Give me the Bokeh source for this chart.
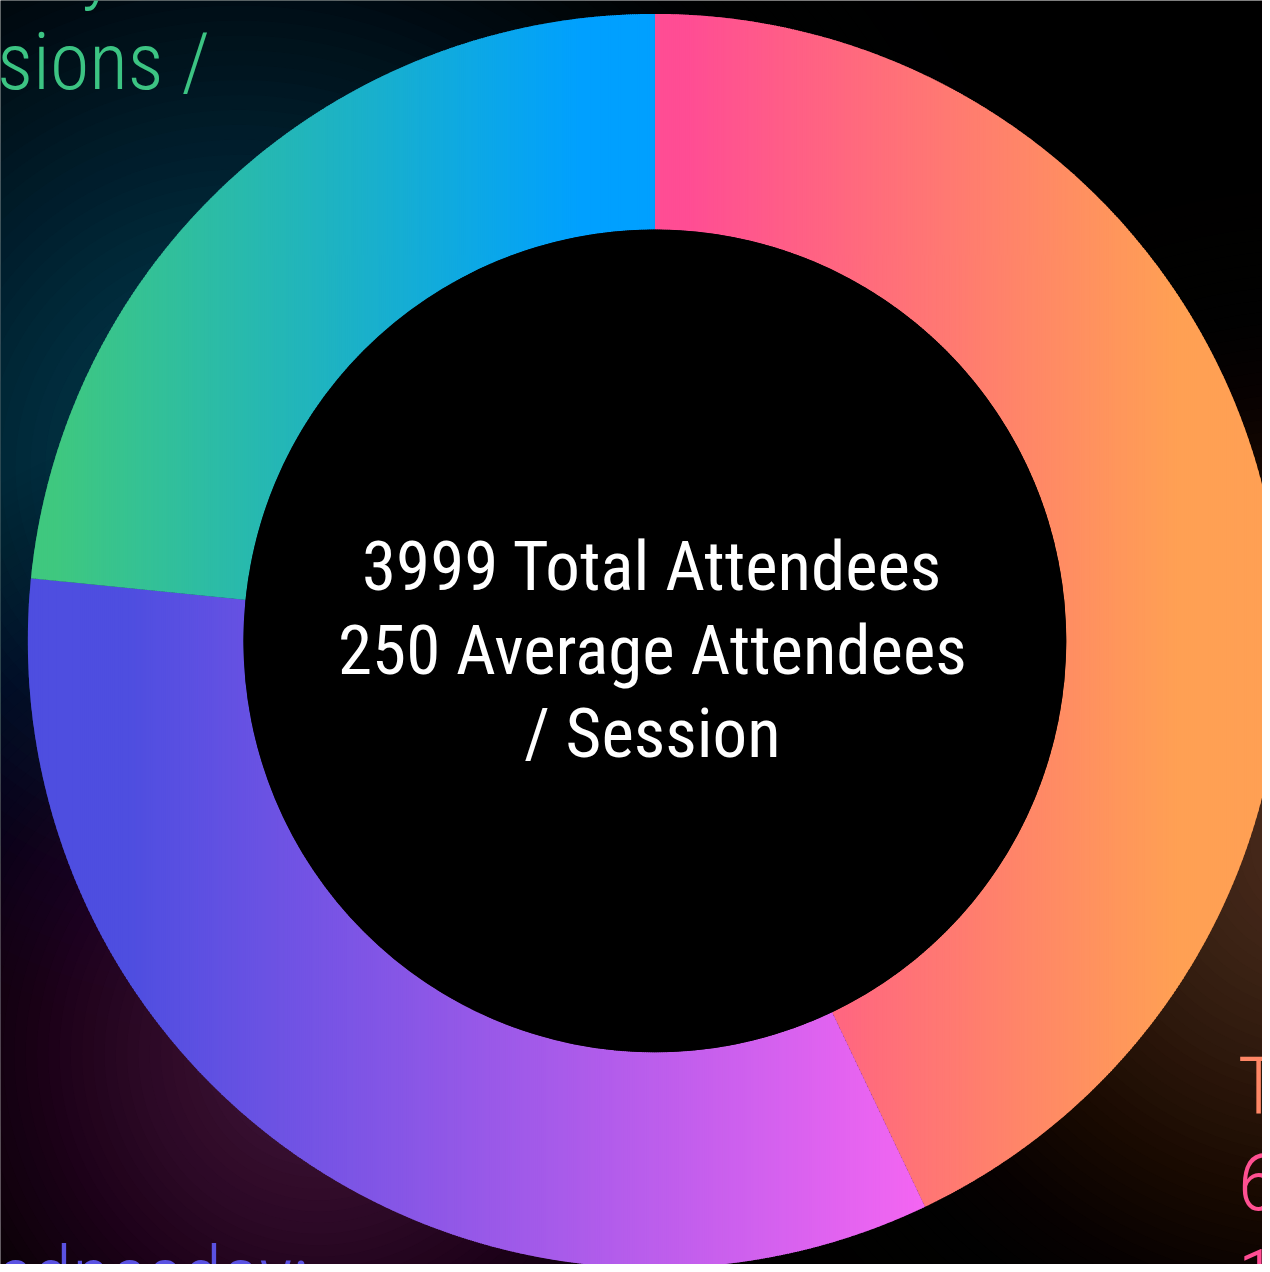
import numpy as np
from bokeh.plotting import figure
from bokeh.models import Range1d, ColumnDataSource
from bokeh.core.properties import value
from bokeh.embed import file_html
from bokeh.resources import INLINE

# ---------------- data ----------------
days = ["Tuesday", "Wednesday", "Thursday"]
attendees = [1716, 1347, 936]
sessions = [6, 6, 4]
total_attendees = sum(attendees)
avg_attendees = round(total_attendees / sum(sessions))
center_lines = [f"{total_attendees} Total Attendees",
                f"{avg_attendees} Average Attendees",
                "/ Session"]
label_lines = [
    [f"{days[0]}:", f"{sessions[0]} Sessions /", f"{attendees[0]} Attendees"],
    [f"{days[1]}:"],
    [f"{days[2]}:", f"{sessions[2]} Sessions /"],
]

# ---------------- style / geometry ----------------
W, H = 1270, 1272          # reference coordinate space
PW, PH = 1262, 1264        # figure size (fits inside the 8px page margin)
CX, CY = 658.5, 644.5
R_OUT, R_IN = 631.0, 414.0
grad_stops = [  # (x_start, color_start, x_end, color_end) for each slice
    (692, (255, 77, 148), 1184, (255, 160, 84)),
    (130, (78, 78, 224), 935, (245, 102, 242)),
    (55, (63, 200, 127), 586, (0, 160, 255)),
]
label_colors = [["#FF8766", "#FF5092", "#FF4D94"], ["#5A52E2"], ["#3BC486", "#3CC483"]]
label_pos = [(1245, 1093, 97), (-65, 1284, 97), (-175, -34, 96)]

p = figure(width=PW, height=PH, x_range=Range1d(0, W), y_range=Range1d(H, 0),
           output_backend="svg", toolbar_location=None, min_border=0,
           x_axis_location=None, y_axis_location=None,
           background_fill_color="black", border_fill_color="black",
           outline_line_color=None)
p.grid.visible = False


def hexc(rgb):
    return "#%02x%02x%02x" % tuple(int(round(max(0, min(255, c)))) for c in rgb)


# ---------------- background glows ----------------
def glow(cx, cy, R, rgb, n=60):
    radii = R * (1 - np.arange(n) / n)
    nxt = np.r_[radii[1:], 0.0]
    mids = (radii + nxt) / 2
    F = np.clip(0.5 * (1 + np.cos(np.pi * mids / R)), 0, 0.995)
    alphas = []
    prev = 0.0
    for f in F:
        a = 1 - (1 - f) / (1 - prev)
        alphas.append(max(0.0, a))
        prev = f
    p.circle(x=[cx] * n, y=[cy] * n, radius=list(radii), fill_color=hexc(rgb),
             fill_alpha=alphas, line_color=None)


glow(240, 470, 900, (4, 57, 75))
glow(320, 1060, 680, (62, 21, 54))
glow(1330, 850, 720, (71, 43, 29))


# ---------------- donut slices (horizontal gradient via strips) ----------------
def ring_polygon(a0, a1):
    n = max(3, int(np.ceil(np.degrees(a1 - a0) / 0.4)) + 1)
    th = np.linspace(a0, a1, n)
    xo = CX + R_OUT * np.sin(th)
    yo = CY - R_OUT * np.cos(th)
    xi = CX + R_IN * np.sin(th[::-1])
    yi = CY - R_IN * np.cos(th[::-1])
    return list(zip(np.r_[xo, xi], np.r_[yo, yi]))


def clip(poly, x0, keep_greater):
    out = []
    n = len(poly)
    for i in range(n):
        cur = poly[i]
        prev = poly[i - 1]
        cin = cur[0] >= x0 if keep_greater else cur[0] <= x0
        pin = prev[0] >= x0 if keep_greater else prev[0] <= x0
        if cin:
            if not pin:
                t = (x0 - prev[0]) / (cur[0] - prev[0])
                out.append((x0, prev[1] + t * (cur[1] - prev[1])))
            out.append(cur)
        elif pin:
            t = (x0 - prev[0]) / (cur[0] - prev[0])
            out.append((x0, prev[1] + t * (cur[1] - prev[1])))
    return out


fractions = np.array(attendees) / total_attendees
ends = np.cumsum(fractions) * 2 * np.pi
starts = np.r_[0, ends[:-1]]

xs, ys, cols, names = [], [], [], []
STRIP = 2.0
for i, day in enumerate(days):
    poly = ring_polygon(starts[i], ends[i])
    px = [q[0] for q in poly]
    xmin, xmax = min(px), min(max(px), W + 2)
    gx0, c0, gx1, c1 = grad_stops[i]
    x = np.floor(xmin)
    while x < xmax:
        piece = clip(clip(poly, x - 0.5, True), x + STRIP + 0.5, False)
        if len(piece) >= 3:
            t = np.clip((x + STRIP / 2 - gx0) / (gx1 - gx0), 0, 1)
            col = tuple(c0[k] + t * (c1[k] - c0[k]) for k in range(3))
            xs.append([q[0] for q in piece])
            ys.append([q[1] for q in piece])
            cols.append(hexc(col))
            names.append(day)
        x += STRIP

src = ColumnDataSource(dict(xs=xs, ys=ys, color=cols, day=names))
p.patches("xs", "ys", source=src, fill_color="color", line_color=None)

# hole
p.circle(x=[CX], y=[CY], radius=R_IN, fill_color="black", line_color=None)

# ---------------- texts ----------------
CENTER_FONT = value("Roboto Condensed, Liberation Sans Narrow, Roboto")
LABEL_FONT = value("Roboto Condensed Light, Roboto Condensed, Liberation Sans Narrow, Roboto")

p.text(x=[656] * 3, y=[570, 654, 738], text=center_lines, text_color="white",
       text_font=CENTER_FONT, text_font_size="69px", text_align="center",
       text_baseline="alphabetic")

for lines, colors, (lx, ly, dy) in zip(label_lines, label_colors, label_pos):
    p.text(x=[lx] * len(lines), y=[ly + k * dy for k in range(len(lines))],
           text=lines, text_color=colors[:len(lines)], text_font=LABEL_FONT,
           text_font_size="80px", text_align="left", text_baseline="alphabetic")

open("out.html", "w").write(file_html(p, INLINE))
